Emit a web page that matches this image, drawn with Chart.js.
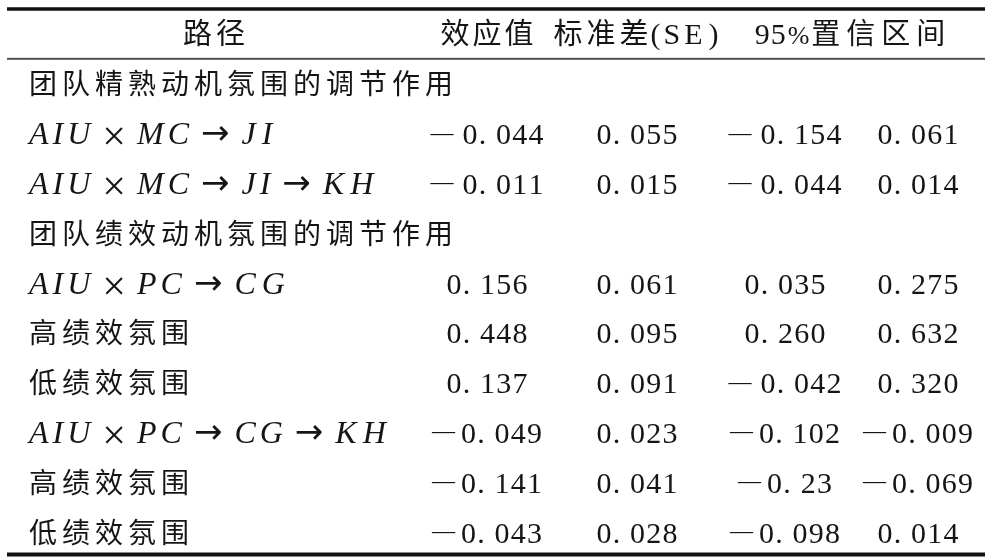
<!DOCTYPE html>
<html>
<head>
<meta charset="utf-8">
<script src="https://cdn.jsdelivr.net/npm/chart.js@4.4.1/dist/chart.umd.min.js"></script>
<style>
  html, body { margin: 0; padding: 0; background: #ffffff; }
  #wrap { width: 992px; height: 560px; position: relative; }
</style>
</head>
<body>
<div id="wrap"><canvas id="c"></canvas></div>
<script>
// ---------- data ----------
const headers = ['路径', '效应值', '标准差(SE)', '95%置信区间'];
const rowLabels = [
  '团队精熟动机氛围的调节作用',
  'AIU × MC → JI',
  'AIU × MC → JI → KH',
  '团队绩效动机氛围的调节作用',
  'AIU × PC → CG',
  '高绩效氛围',
  '低绩效氛围',
  'AIU × PC → CG → KH',
  '高绩效氛围',
  '低绩效氛围'
];
const effectValues = ['', '-0.044', '-0.011', '', '0.156', '0.448', '0.137', '-0.049', '-0.141', '-0.043'];
const seValues     = ['', '0.055', '0.015', '', '0.061', '0.095', '0.091', '0.023', '0.041', '0.028'];
const ciLowValues  = ['', '-0.154', '-0.044', '', '0.035', '0.260', '-0.042', '-0.102', '-0.23', '-0.098'];
const ciHighValues = ['', '0.061', '0.014', '', '0.275', '0.632', '0.320', '-0.009', '-0.069', '0.014'];
// rows whose minus sign is followed by a wider gap
const wideDashRows = [false, true, true, false, false, false, true, false, false, false];

// ---------- layout / style ----------
const X_PATH = 29;
const X_HEAD = [214, 487, 636, 850];
const X_COL = [487, 637, 785, 918];
const CJK = '"Noto Sans CJK SC", "Noto Sans CJK JP", sans-serif';
const SERIF = '"Liberation Serif", "DejaVu Serif", serif';
const SYM = '"DejaVu Sans", sans-serif';
const INK = '#151515';

function numRuns(s, wide) {
  const neg = s.charAt(0) === '-';
  const body = s.replace('-', '').replace('.', '. ');
  const runs = [];
  if (neg) runs.push({ t: '—', f: '23px ' + SERIF, dy: -4.5, after: wide ? 9 : 6 });
  runs.push({ t: body, f: '30px ' + SERIF, ls: 1.2 });
  return runs;
}
function pathRuns(s) {
  if (/[A-Z]/.test(s)) {
    const tokens = s.split(' ');
    return tokens.map((tk, i) => {
      const last = i === tokens.length - 1;
      if (/[A-Z]/.test(tk)) {
        const ls = (tk.length === 2 && last) ? 6 : 4;
        return { t: tk, f: 'italic 32px ' + SERIF, ls: ls, after: last ? 0 : 12 };
      }
      if (tk === '×') return { t: tk, f: '42px ' + SERIF, dy: 6, after: 11 };
      return { t: tk, f: '34px ' + SYM, dy: 0, after: 12 };
    });
  }
  return [{ t: s, f: '28px ' + CJK, ls: 5 }];
}
function headerRuns(i) {
  const h = headers[i];
  if (i === 2) {
    return [
      { t: '标准差', f: '29px ' + CJK, ls: 4, after: 2 },
      { t: '(', f: '30px ' + SERIF, after: 3 },
      { t: 'SE', f: '30px ' + SERIF, ls: 4, after: 6 },
      { t: ')', f: '30px ' + SERIF }
    ];
  }
  if (i === 3) {
    return [
      { t: '95', f: '30px ' + SERIF, ls: 1, after: 2 },
      { t: '%', f: '26px ' + SERIF, after: 2 },
      { t: '置信区间', f: '29px ' + CJK, ls: 6 }
    ];
  }
  return [{ t: h, f: '29px ' + CJK, ls: i === 0 ? 4 : 3 }];
}

function runsWidth(ctx, runs) {
  let w = 0;
  runs.forEach(r => {
    ctx.font = r.f;
    const chars = [...r.t];
    chars.forEach((c, k) => {
      w += ctx.measureText(c).width + (k < chars.length - 1 ? (r.ls || 0) : 0);
    });
    w += r.after || 0;
  });
  return w;
}
function drawRuns(ctx, runs, x, y, align) {
  let cx = align === 'center' ? x - runsWidth(ctx, runs) / 2 : x;
  runs.forEach(r => {
    ctx.font = r.f;
    const chars = [...r.t];
    chars.forEach((c, k) => {
      ctx.fillText(c, cx, y + 10.5 + (r.dy || 0));
      cx += ctx.measureText(c).width + (k < chars.length - 1 ? (r.ls || 0) : 0);
    });
    cx += r.after || 0;
  });
}

// ---------- datasets (invisible anchor points; text drawn at their pixels) ----------
const datasets = [];
datasets.push({
  label: 'header', kind: 'header',
  data: headers.map((h, i) => ({ x: X_HEAD[i], y: 0 })),
  texts: headers.map((h, i) => i)
});
datasets.push({
  label: 'path', kind: 'path',
  data: rowLabels.map((r, i) => ({ x: X_PATH, y: i + 1 })),
  texts: rowLabels
});
[effectValues, seValues, ciLowValues, ciHighValues].forEach((arr, c) => {
  const data = [], texts = [], wide = [];
  arr.forEach((v, i) => {
    if (v !== '') { data.push({ x: X_COL[c], y: i + 1 }); texts.push(v); wide.push(wideDashRows[i]); }
  });
  datasets.push({ label: 'col' + c, kind: 'num', data, texts, wide });
});
datasets.forEach(d => { d.pointRadius = 0; d.pointHoverRadius = 0; d.showLine = false; });

const tablePlugin = {
  id: 'tablePlugin',
  afterDatasetsDraw(chart) {
    const ctx = chart.ctx;
    const ys = chart.scales.y;
    ctx.save();
    const rules = [
      { v: -0.5, w: 3.5, c: '#111111' },
      { v: 0.5, w: 2, c: '#505050' },
      { v: 10.45, w: 4, c: '#111111' }
    ];
    rules.forEach(r => {
      const py = ys.getPixelForValue(r.v);
      ctx.fillStyle = r.c;
      ctx.fillRect(7, py - r.w / 2, 978, r.w);
    });
    ctx.fillStyle = INK;
    ctx.textBaseline = 'alphabetic';
    ctx.textAlign = 'left';
    chart.data.datasets.forEach((ds, di) => {
      const meta = chart.getDatasetMeta(di);
      meta.data.forEach((pt, j) => {
        let runs, align;
        if (ds.kind === 'header') { runs = headerRuns(ds.texts[j]); align = 'center'; }
        else if (ds.kind === 'path') { runs = pathRuns(ds.texts[j]); align = 'left'; }
        else { runs = numRuns(ds.texts[j], ds.wide[j]); align = 'center'; }
        drawRuns(ctx, runs, pt.x, pt.y, align);
      });
    });
    ctx.restore();
  }
};

new Chart(document.getElementById('c'), {
  type: 'scatter',
  data: { datasets },
  options: {
    responsive: true,
    maintainAspectRatio: false,
    animation: false,
    events: [],
    layout: { padding: { top: 9, bottom: 3, left: 0, right: 0 } },
    plugins: { legend: { display: false }, tooltip: { enabled: false }, title: { display: false } },
    scales: {
      x: { type: 'linear', min: 0, max: 992, display: false },
      y: { type: 'linear', min: -0.5, max: 10.5, reverse: true, display: false }
    }
  },
  plugins: [tablePlugin]
});
</script>
</body>
</html>
